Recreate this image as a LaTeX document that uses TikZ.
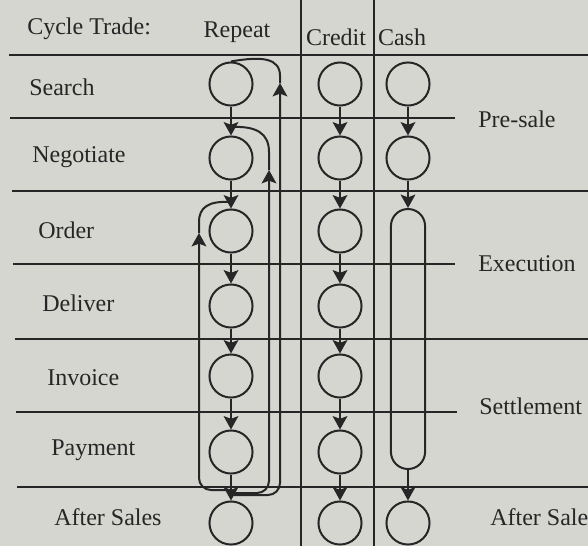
\documentclass[tikz,border=0pt]{standalone}
\usepackage{fontspec}
\setmainfont{Liberation Serif}
\usetikzlibrary{arrows.meta}
\definecolor{paper}{RGB}{214,214,209}
\definecolor{ink}{RGB}{38,38,38}
\begin{document}
\begin{tikzpicture}[x=0.75pt,y=-0.75pt,
  every node/.style={font=\fontsize{18}{20}\selectfont, text=ink},
  rule/.style={draw=ink, line width=1.5pt},
  stage/.style={circle, draw=ink, line width=1.5pt, minimum size=32.3pt, inner sep=0pt},
  capsule/.style={rectangle, draw=ink, line width=1.5pt, rounded corners=12.8pt, minimum width=25.6pt, minimum height=195pt, inner sep=0pt},
  flow/.style={draw=ink, line width=1.5pt, -{Stealth[length=10pt,width=11pt,inset=2pt]}},
  loopline/.style={draw=ink, line width=1.5pt},
  lbl/.style={anchor=west, inner sep=0pt},
  hdr/.style={inner sep=0pt}
]
\fill[paper] (0,0) rectangle (588,546);
\useasboundingbox (0,0) rectangle (588,546);

% grid lines
\draw[rule] (9,55) -- (588,55);
\draw[rule] (10,118) -- (455,118);
\draw[rule] (12,191) -- (588,191);
\draw[rule] (13,264) -- (455,264);
\draw[rule] (15,339) -- (588,339);
\draw[rule] (16,412) -- (457,412);
\draw[rule] (17,487) -- (588,487);
\draw[rule] (301,0) -- (301,546);
\draw[rule] (374,0) -- (374,546);

% headers
\node[lbl] (tCycle) at (27,29) {Cycle Trade:};
\node[hdr] (tRepeat) at (237,32) {Repeat};
\node[hdr] (tCredit) at (336,37) {Credit};
\node[hdr] (tCash) at (402,37) {Cash};

% row labels
\node[lbl] (lSearch) at (29,87) {Search};
\node[lbl] (lNeg) at (32,157) {Negotiate};
\node[lbl] (lOrder) at (38,230) {Order};
\node[lbl] (lDeliver) at (42,303) {Deliver};
\node[lbl] (lInvoice) at (47,378) {Invoice};
\node[lbl] (lPayment) at (51,450) {Payment};
\node[lbl] (lAfter) at (54,517) {After Sales};

% phase labels
\node[lbl] (pPre) at (478,119) {Pre-sale};
\node[lbl] (pExec) at (478,264) {Execution};
\node[lbl] (pSettle) at (479,406) {Settlement};
\node[lbl] (pAfter) at (490,517) {After Sale};

% Repeat column
\node[stage] (r1) at (231,84) {};
\node[stage] (r2) at (231,158) {};
\node[stage] (r3) at (231,231) {};
\node[stage] (r4) at (231,306) {};
\node[stage] (r5) at (231,376) {};
\node[stage] (r6) at (231,452) {};
\node[stage] (r7) at (231,523) {};
% Credit column
\node[stage] (c1) at (340,84) {};
\node[stage] (c2) at (340,158) {};
\node[stage] (c3) at (340,231) {};
\node[stage] (c4) at (340,306) {};
\node[stage] (c5) at (340,376) {};
\node[stage] (c6) at (340,452) {};
\node[stage] (c7) at (340,523) {};
% Cash column
\node[stage] (h1) at (408,84) {};
\node[stage] (h2) at (408,158) {};
\node[capsule] (h3) at (408,339) {};
\node[stage] (h7) at (408,523) {};

% sequential flows
\foreach \a/\b in {r1/r2,r2/r3,r3/r4,r4/r5,r5/r6,r6/r7,
                   c1/c2,c2/c3,c3/c4,c4/c5,c5/c6,c6/c7,
                   h1/h2,h2/h3,h3/h7}
  \draw[flow] (\a) -- (\b);

% repeat loops
\coordinate (jA) at (231,495);
\coordinate (jB) at (231,493);
\coordinate (jC) at (231,490);
\coordinate (aA) at (280,83);
\coordinate (aB) at (269,170);
\coordinate (aC) at (199,233);
\coordinate (eB) at (232,127);
\coordinate (eC) at (229,202);

\draw[flow, rounded corners=9pt] (jA) -| (aA);
\draw[flow, rounded corners=9pt] (jB) -| (aB);
\draw[flow, rounded corners=9pt] (jC) -| (aC);

\draw[loopline] (aA) -- (280,76) .. controls (280,58) and (262,56) .. (r1.north);
\draw[loopline] (aB) -- (269,152) .. controls (269,133) and (256,126) .. (eB);
\draw[loopline] (aC) -- (199,222) .. controls (199,207) and (209,201) .. (eC);
\end{tikzpicture}
\end{document}
